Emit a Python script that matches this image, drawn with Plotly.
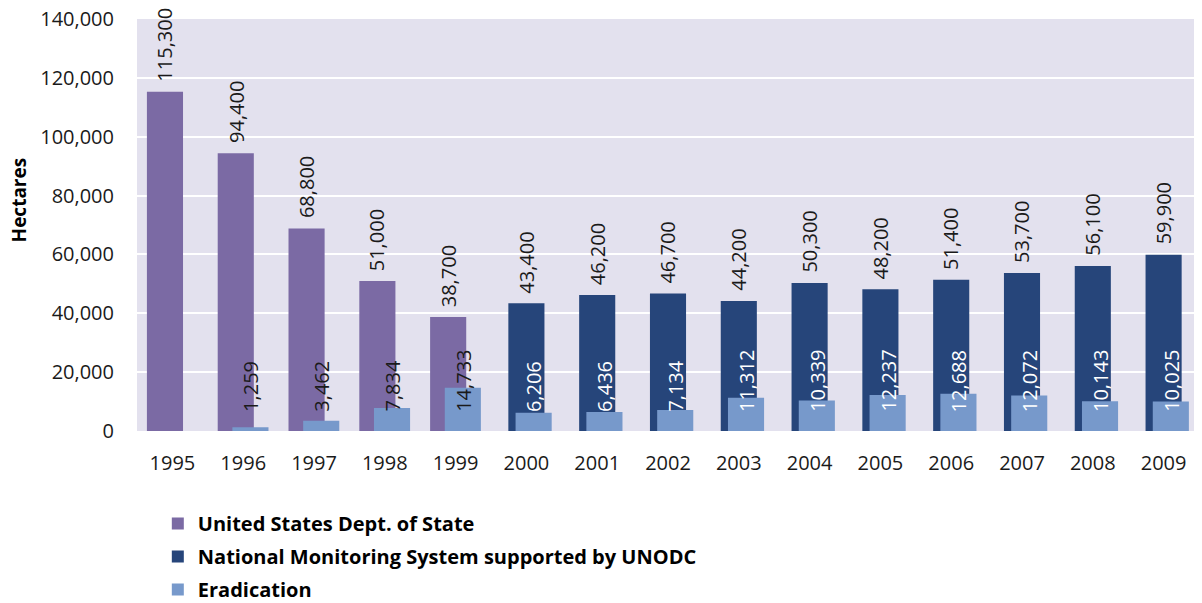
"""
Opium poppy cultivation and eradication, 1995-2009 (bar chart)
"""

import plotly.graph_objects as go

# --- data ---
years_us = [1995, 1996, 1997, 1998, 1999]
us_state = [115300, 94400, 68800, 51000, 38700]

years_nms = [2000, 2001, 2002, 2003, 2004, 2005, 2006, 2007, 2008, 2009]
nms_unodc = [43400, 46200, 46700, 44200, 50300, 48200, 51400, 53700, 56100, 59900]

years_erad = [1996, 1997, 1998, 1999, 2000, 2001, 2002, 2003, 2004, 2005,
              2006, 2007, 2008, 2009]
eradication = [1259, 3462, 7834, 14733, 6206, 6436, 7134, 11312, 10339, 12237,
               12688, 12072, 10143, 10025]

tick_years = [1995, 1996, 1997, 1998, 1999, 2000, 2001, 2002, 2003, 2004,
              2005, 2006, 2007, 2008, 2009]

# --- styles ---
PURPLE = '#7B6AA4'
NAVY = '#26457A'
LIGHT = '#7799CB'
BG = '#E3E1EE'
TXT = '#1a1a1a'
FONT = 'Open Sans'

BAR_W = 0.51
OFF_US = -0.36    # purple bars sit slightly left of the category centre
OFF_NMS = -0.255  # centred
OFF_ERAD = -0.153 # eradication bars overlap to the right

fig = go.Figure()

fig.add_trace(go.Bar(
    x=years_us, y=us_state, name='United States Dept. of State',
    marker=dict(color=PURPLE, line=dict(width=0)),
    width=BAR_W, offset=OFF_US,
))
fig.add_trace(go.Bar(
    x=years_nms, y=nms_unodc, name='National Monitoring System supported by UNODC',
    marker=dict(color=NAVY, line=dict(width=0)),
    width=BAR_W, offset=OFF_NMS,
))
fig.add_trace(go.Bar(
    x=years_erad, y=eradication, name='Eradication',
    marker=dict(color=LIGHT, line=dict(width=0)),
    width=BAR_W, offset=OFF_ERAD,
))

# value labels, rotated
annotations = []
for yr, v in zip(years_us, us_state):
    annotations.append(dict(
        x=yr + OFF_US + BAR_W / 2, y=v, text=f'{v:,}', textangle=-90,
        showarrow=False, yanchor='bottom', xanchor='center', yshift=8,
        font=dict(family=FONT, size=20, color=TXT),
    ))
for yr, v in zip(years_nms, nms_unodc):
    annotations.append(dict(
        x=yr + OFF_NMS + BAR_W / 2, y=v, text=f'{v:,}', textangle=-90,
        showarrow=False, yanchor='bottom', xanchor='center', yshift=8,
        font=dict(family=FONT, size=20, color=TXT),
    ))
for yr, v in zip(years_erad, eradication):
    annotations.append(dict(
        x=yr + OFF_ERAD + BAR_W / 2, y=0, text=f'{v:,}', textangle=-90,
        showarrow=False, yanchor='bottom', xanchor='center', yshift=17,
        font=dict(family=FONT, size=20, color=TXT if yr < 2000 else 'white'),
    ))

# axis title placed like the original
annotations.append(dict(
    x=-0.111, y=0.56, xref='paper', yref='paper', text='Hectares',
    textangle=-90, showarrow=False, xanchor='center', yanchor='middle',
    font=dict(family=FONT, size=19, color='black', weight='bold'),
))

# the page body has an 8px default margin, so the figure is sized to fit
fig.update_layout(
    width=1194, height=615,
    margin=dict(l=129, r=3, t=11, b=192),
    barmode='overlay',
    plot_bgcolor=BG, paper_bgcolor='white',
    font=dict(family=FONT, size=20, color=TXT),
    xaxis=dict(
        range=[1994.5, 2009.5], tickvals=tick_years,
        ticktext=[str(y) for y in tick_years],
        showgrid=False, zeroline=False, showline=False,
        ticks='', ticklabelstandoff=18, automargin=False,
        ticklabeloverflow='allow',
        tickfont=dict(family=FONT, size=20, color=TXT),
    ),
    yaxis=dict(
        range=[0, 140000], dtick=20000, tickformat=',',
        gridcolor='white', gridwidth=2, zeroline=False, showline=False,
        ticks='', ticklabelstandoff=22, automargin=False,
        ticklabeloverflow='allow',
        tickfont=dict(family=FONT, size=20, color=TXT),
    ),
    legend=dict(
        orientation='v', x=0.0196, y=-0.177, xanchor='left', yanchor='top',
        font=dict(family=FONT, size=20, color='black', weight='bold'),
        bgcolor='rgba(0,0,0,0)', tracegroupgap=4, itemwidth=30,
    ),
    annotations=annotations,
    showlegend=True,
)

# each trace in its own group so the gap between legend rows can be set
for i, tr in enumerate(fig.data):
    tr.legendgroup = f'g{i}'

fig.write_html('out.html')
